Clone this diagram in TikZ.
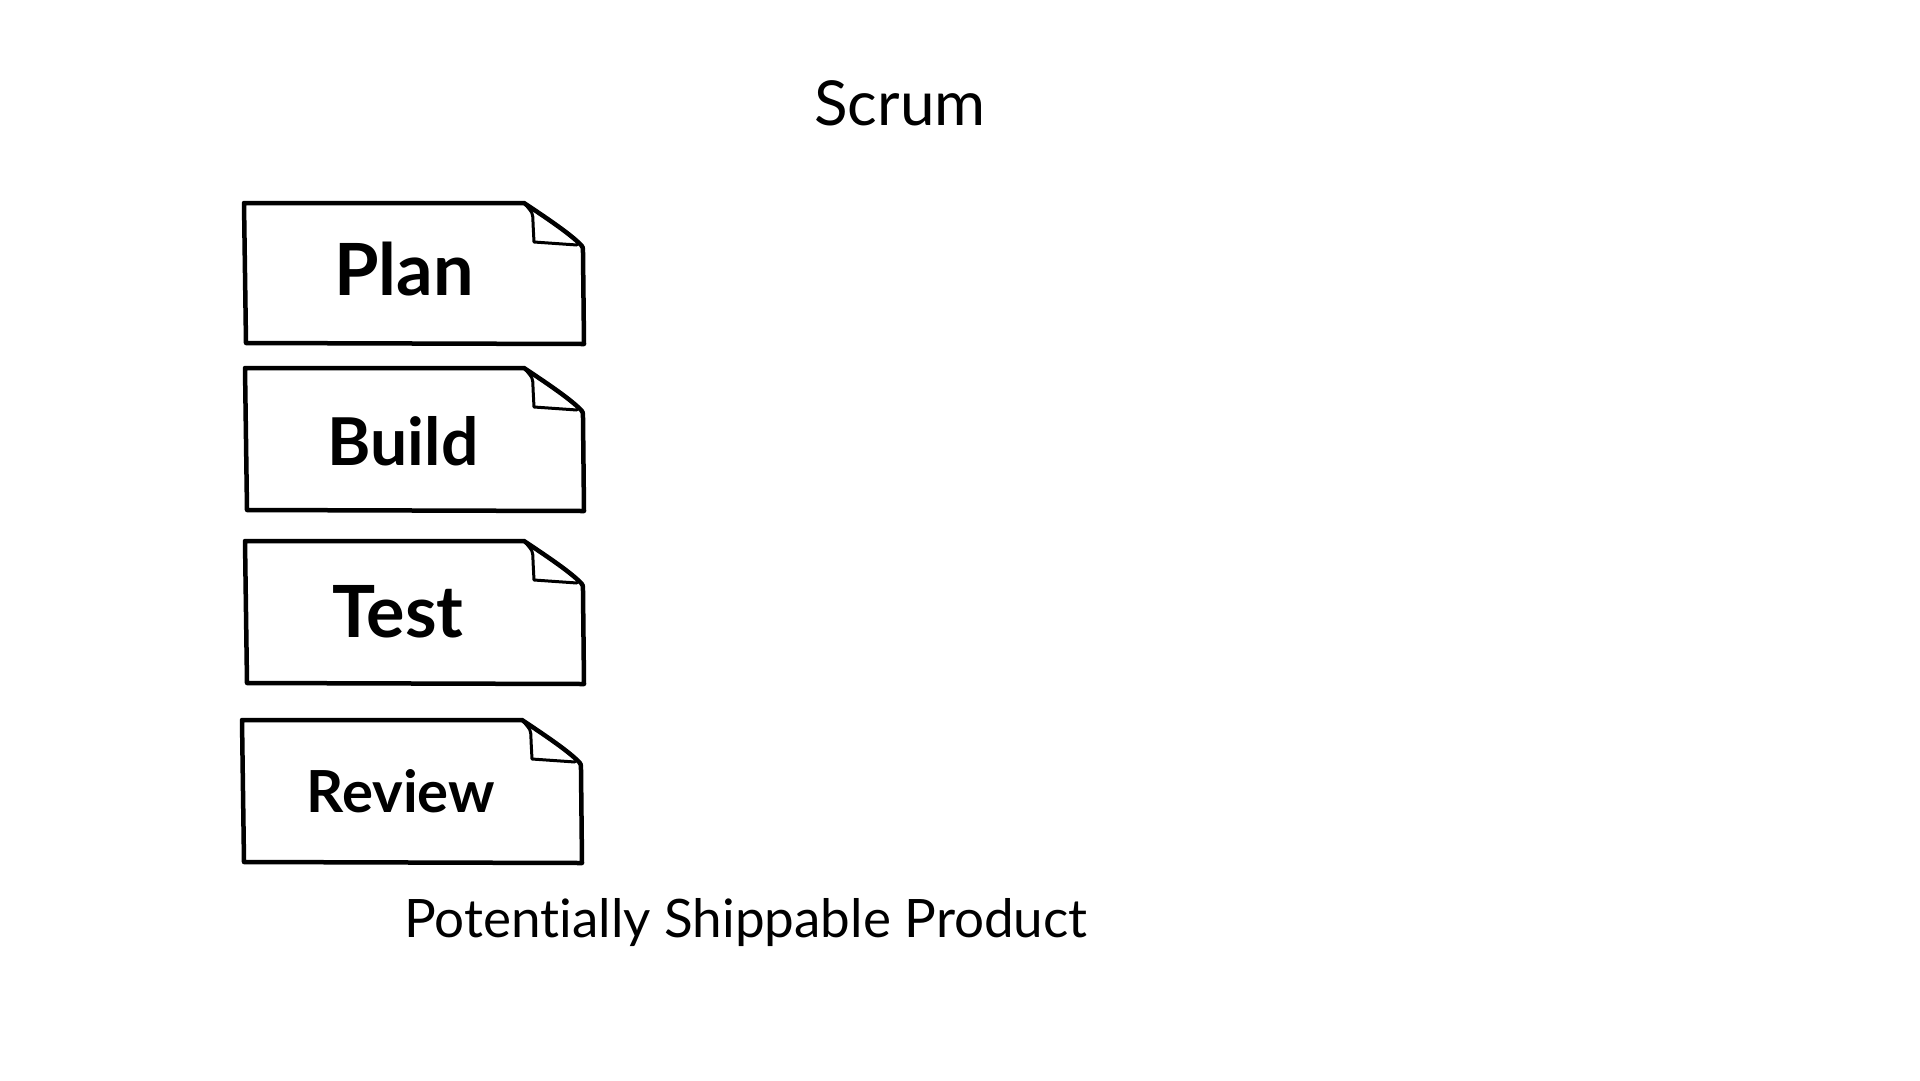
\documentclass[tikz,border=0pt]{standalone}
\usepackage{fontspec}
\setmainfont{Lato}[Ligatures=NoCommon]

\tikzset{
  card/.style={line width=4.5pt, line join=round, line cap=round},
  cardlabel/.style={anchor=base, font=\fontsize{72}{80}\selectfont\bfseries},
}

% folded note card: left, top, right, bottom
\newcommand{\notecard}[4]{%
  \draw [card] (#1,#2) -- (#3-59,#2)
    .. controls (#3-38,#2+14) and (#3-14,#2+30) .. (#3-3,#2+41)
    .. controls (#3,#2+44) .. (#3,#2+50) -- (#3+1,#4) -- (#1+2,#4-1) -- cycle;
  \draw [card, line width=3pt] (#3-59,#2) .. controls (#3-50,#2+10) .. (#3-50,#2+20)
    -- (#3-49,#2+39) -- (#3-6,#2+42);
}

\begin{document}
\begin{tikzpicture}[x=1pt, y=-1pt]

    \useasboundingbox [fill=white] (0,0) rectangle (1920,1080);

    % title
    \node [anchor=base, font=\fontsize{62}{68}\selectfont] (title) at (900,125) {Scrum};

    % cards
    \notecard{244}{203}{583}{344}
    \notecard{245}{368}{583}{511}
    \notecard{245}{541}{583}{684}
    \notecard{242}{720}{581}{863}

    % labels
    \node [cardlabel] (plan) at (404,295) {Plan};
    \node [cardlabel, font=\fontsize{66}{72}\selectfont\bfseries] (build) at (403,465) {Build};
    \node [cardlabel] (test) at (398,637) {Test};
    \node [cardlabel, font=\fontsize{58}{64}\selectfont\bfseries] (review) at (401,812) {Review};

    % result
    \node [anchor=base, font=\fontsize{53}{58}\selectfont] (product) at (746,937) {Potentially Shippable Product};

\end{tikzpicture}
\end{document}
